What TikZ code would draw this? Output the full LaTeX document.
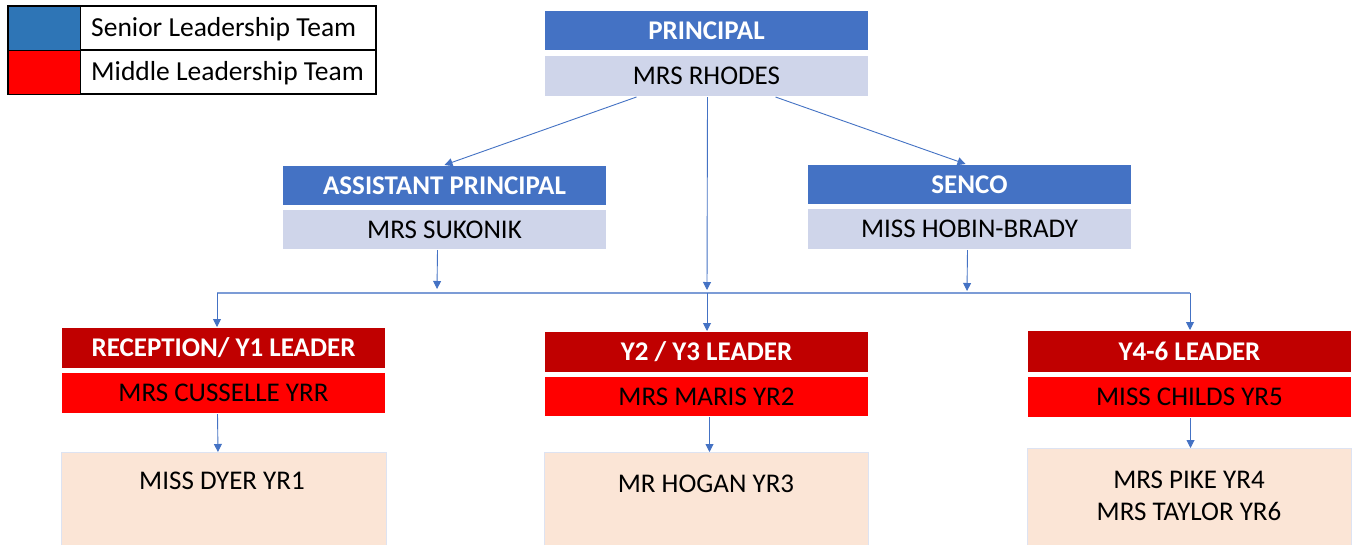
\documentclass[tikz,border=0pt]{standalone}
\usepackage{fontspec}
\setmainfont{Carlito}
\usetikzlibrary{arrows.meta,calc}
\definecolor{sltblue}{HTML}{2E75B6}
\definecolor{tblue}{HTML}{4472C4}
\definecolor{nblue}{HTML}{CFD5EA}
\definecolor{dred}{HTML}{C00000}
\definecolor{bred}{HTML}{FF0000}
\definecolor{peach}{HTML}{FBE5D6}
\definecolor{lineblue}{HTML}{4472C4}
\definecolor{peachedge}{HTML}{DDE3F2}
\begin{document}
\begin{tikzpicture}[x=1pt,y=-1pt,
  box/.style={rectangle, draw=white, line width=1pt, anchor=north west,
    minimum width=324pt, inner sep=0pt, font=\fontsize{27}{31}\selectfont},
  titlebox/.style={box, fill=tblue, text=white, minimum height=40pt,
    font=\fontsize{27}{31}\selectfont\bfseries},
  namebox/.style={box, fill=nblue, text=black, minimum height=41pt},
  redtitle/.style={box, fill=dred, text=white, minimum height=41pt,
    font=\fontsize{27}{31}\selectfont\bfseries},
  redname/.style={box, fill=bred, text=black, minimum height=41pt},
  lowbox/.style={box, draw=peachedge, fill=peach, minimum height=120pt},
  lowtext/.style={anchor=center, align=center, inner sep=0pt,
    font=\fontsize{27}{32}\selectfont},
  legcell/.style={rectangle, draw=black, line width=1.2pt, anchor=north west,
    minimum width=72pt, minimum height=44pt, inner sep=0pt},
  legtext/.style={anchor=west, inner sep=0pt, font=\fontsize{27.5}{31}\selectfont},
  conn/.style={draw=lineblue, line width=0.9pt, -{Triangle[width=8pt,length=8pt]}},
  busline/.style={draw=lineblue!70, line width=1.4pt}
]
\clip (0,0) rectangle (1352,544);
\fill[white] (0,0) rectangle (1352,544);

% legend
\draw[black, line width=1.2pt] (8,6) rectangle (376,94);
\draw[black, line width=1.2pt] (80,50) -- (376,50);
\node[legcell, fill=sltblue] (lgblue) at (8,6) {};
\node[legcell, fill=bred] (lgred) at (8,50) {};
\node[legtext] (lgsenior) at (91,29) {Senior Leadership Team};
\node[legtext] (lgmiddle) at (91,73) {Middle Leadership Team};

% senior boxes
\node[titlebox] (ptitle) at (544,10) {PRINCIPAL};
\node[namebox] (pname) at (544,55) {MRS RHODES};
\node[titlebox] (atitle) at (282,165) {ASSISTANT PRINCIPAL};
\node[namebox, minimum height=40pt] (aname) at (282,209) {MRS SUKONIK};
\node[titlebox] (stitle) at (807,164) {SENCO};
\node[namebox] (sname) at (807,208) {MISS HOBIN-BRADY};

% middle boxes
\node[redtitle] (rtitle) at (61,327) {RECEPTION/ Y1 LEADER};
\node[redname] (rname) at (61,372) {MRS CUSSELLE YRR};
\node[redtitle] (ytitle) at (544,331) {Y2 / Y3 LEADER};
\node[redname, minimum height=40pt] (yname) at (544,376) {MRS MARIS YR2};
\node[redtitle, minimum height=42pt] (ctitle) at (1027,330) {Y4-6 LEADER};
\node[redname] (cname) at (1027,376) {MISS CHILDS YR5};

% lower boxes
\node[lowbox, minimum width=325pt] (dyerbox) at (61,452) {};
\node[lowbox] (hoganbox) at (544,452) {};
\node[lowbox] (pikebox) at (1027,448) {};
\node[lowtext] (dyer) at (222,481) {MISS DYER YR1};
\node[lowtext] (hogan) at (706,484) {MR HOGAN YR3};
\node[lowtext] (pike) at (1189,496) {MRS PIKE YR4\\MRS TAYLOR YR6};

% bus coordinates
\coordinate (busL) at (217,293);
\coordinate (busM) at (707,293);
\coordinate (busR) at (1190,293);
\coordinate (mdrop) at (707,290);
\coordinate (adrop) at (437,289);
\coordinate (sdrop) at (967,291);

% connectors
\draw[conn] ([xshift=-70pt]pname.south) -- (atitle.north);
\draw[conn] ([xshift=69pt]pname.south) -- ([xshift=-4pt]stitle.north);
\draw[conn] ([xshift=1pt]pname.south) -- (mdrop);
\draw[conn] ([xshift=-7pt]aname.south) -- (adrop);
\draw[conn] ([xshift=-2pt]sname.south) -- (sdrop);
\draw[busline] (busL) -- (busR);
\draw[conn] (busL) -- (busL |- rtitle.north);
\draw[conn] (busM) -- (busM |- ytitle.north);
\draw[conn] (busR) -- (busR |- ctitle.north);
\draw[conn] ([xshift=-6pt]rname.south) -- ([xshift=-6pt]dyerbox.north);
\draw[conn] ([xshift=3pt]yname.south) -- ([xshift=3pt]hoganbox.north);
\draw[conn] ([xshift=1pt]cname.south) -- ([xshift=1pt]pikebox.north);
\end{tikzpicture}
\end{document}
